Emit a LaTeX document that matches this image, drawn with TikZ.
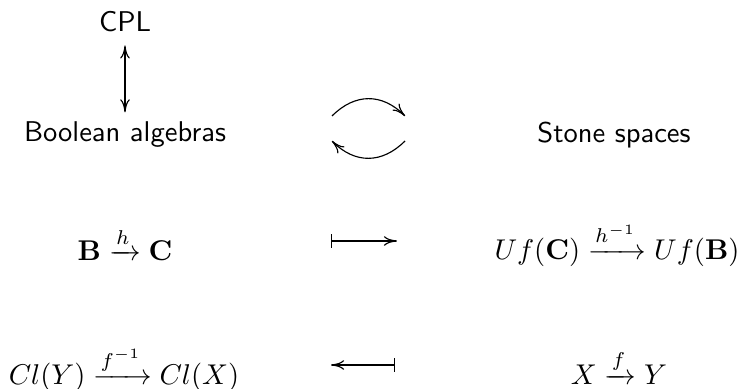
\documentclass[tikz,border=0pt]{standalone}
\usepackage{amsmath}
\usetikzlibrary{arrows.meta}
\begin{document}
\begin{tikzpicture}[x=0.35pt,y=-0.35pt,
  >={Computer Modern Rightarrow[length=4.6pt,width=3.4pt]},
  lab/.style={font=\sffamily, inner sep=0pt},
  mth/.style={inner sep=0pt},
  mapsto/.style={{Bar[width=4.6pt]}->}]
\useasboundingbox (0,0) rectangle (739,389);
\node[lab] (cpl) at (125,22) {CPL};
\node[lab] (ba) at (125,135) {Boolean algebras};
\node[lab] (ss) at (614,135) {Stone spaces};
\draw[<->, shorten <=4.4pt, shorten >=3.2pt] (cpl) -- (ba);
\coordinate (t1) at (332,116);
\coordinate (t2) at (405,116);
\coordinate (b1) at (405,141);
\coordinate (b2) at (332,141);
\draw[->] (t1) .. controls (355,93) and (382,93) .. (t2);
\draw[->] (b1) .. controls (382,164) and (355,164) .. (b2);
\node[mth] (bc) at (125,244) {$\mathbf{B}\xrightarrow{h}\mathbf{C}$};
\node[mth] (uf) at (617,244) {$Uf(\mathbf{C})\xrightarrow{h^{-1}}Uf(\mathbf{B})$};
\node[mth] (cl) at (124,369) {$Cl(Y)\xrightarrow{f^{-1}}Cl(X)$};
\node[mth] (xy) at (619,367) {$X\xrightarrow{f}Y$};
\coordinate (m1) at (331,241);
\coordinate (m2) at (397,241);
\coordinate (n1) at (395,365);
\coordinate (n2) at (331,365);
\draw[mapsto] (m1) -- (m2);
\draw[mapsto] (n1) -- (n2);
\end{tikzpicture}
\end{document}
